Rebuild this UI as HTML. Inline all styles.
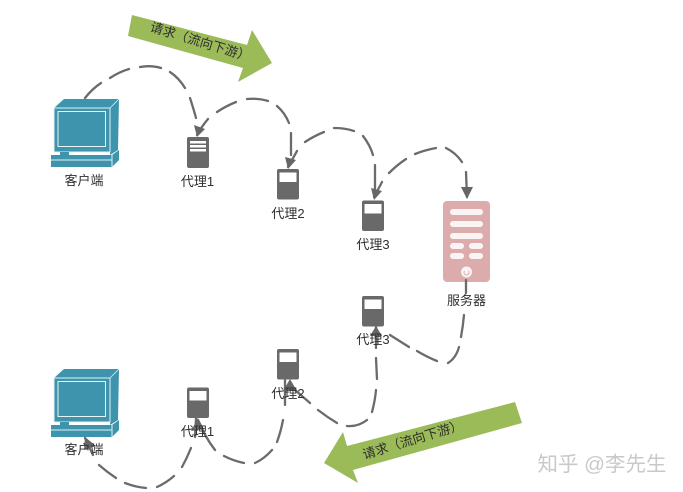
<!DOCTYPE html>
<html>
<head>
<meta charset="utf-8">
<style>
html,body{margin:0;padding:0;background:#fff;width:683px;height:492px;overflow:hidden}
svg{display:block}
text{font-family:"Liberation Sans","Noto Sans CJK SC",sans-serif;fill:#2f2f2f;font-size:13px;text-anchor:middle}
.c{fill:none;stroke:#6b6b6b;stroke-width:2.3;stroke-linecap:round}
.h{fill:#666}
</style>
</head>
<body>
<svg width="683" height="492" viewBox="0 0 683 492" xmlns="http://www.w3.org/2000/svg">
<defs>
<g id="pc">
<polygon points="54,108 64,99 119,99 110,108" fill="#3f94ad"/>
<polygon points="110,108 119,99 118,150 110,155" fill="#3f94ad"/>
<line x1="110" y1="108" x2="119" y2="99" stroke="#e2f2f5" stroke-width=".8"/>
<rect x="54" y="108" width="56" height="44" fill="#3f94ad" stroke="#e2f2f5" stroke-width="1"/>
<rect x="58" y="111.500" width="47.500" height="35" fill="#3f94ad" stroke="#e8f5f7" stroke-width="1"/>
<polygon points="51,155 112,155 119,150 119,160 112,167 51,167" fill="#3f94ad"/>
<line x1="51" y1="160" x2="112" y2="160" stroke="#e2f2f5" stroke-width="1"/>
<line x1="112" y1="155" x2="112" y2="167" stroke="#e2f2f5" stroke-width="1"/>
<rect x="60" y="152" width="9" height="3" fill="#3f94ad"/>
</g>
<g id="px">
<rect x="0" y="0" width="22" height="30.500" rx="2" fill="#696969"/>
<rect x="2.500" y="3.500" width="17" height="9.500" fill="#fff"/>
</g>
</defs>

<!-- Green arrows -->
<polygon points="132,15 247,45 252,30 272,63 238,82 243,68 128,36" fill="#9bbb59"/>
<polygon points="515,402 522,423 353,470 358,483 324,463 343,432 347,446" fill="#9bbb59"/>
<text transform="translate(199,46) rotate(17)">请求（流向下游）</text>
<text transform="translate(414,444) rotate(-17)">请求（流向下游）</text>

<!-- Computers -->
<use href="#pc"/>
<use href="#pc" y="270"/>

<!-- Proxy 1 top -->
<rect x="187" y="137" width="22" height="31" rx="2" fill="#696969"/>
<rect x="190" y="141" width="16" height="2.500" fill="#fff"/>
<rect x="190" y="145" width="16" height="2.500" fill="#fff"/>
<rect x="190" y="149" width="16" height="2.500" fill="#fff"/>

<use href="#px" x="277" y="169"/>
<use href="#px" x="362" y="200.500"/>
<use href="#px" x="362" y="296"/>
<use href="#px" x="277" y="349"/>
<use href="#px" x="187" y="387.500"/>

<!-- Server -->
<rect x="443" y="201" width="47" height="81" rx="4" fill="#dcacac"/>
<g fill="#fbf4f4">
<rect x="450" y="209" width="33" height="6" rx="3"/>
<rect x="450" y="221" width="33" height="6" rx="3"/>
<rect x="450" y="233" width="33" height="6" rx="3"/>
<rect x="450" y="243" width="14" height="6" rx="3"/>
<rect x="469" y="243" width="14" height="6" rx="3"/>
<rect x="450" y="253" width="14" height="6" rx="3"/>
<rect x="469" y="253" width="14" height="6" rx="3"/>
<circle cx="466.500" cy="272" r="5.500"/>
</g>
<path d="M464.500,271 a2.500,2.500 0 1 0 4,0" fill="none" stroke="#dcacac" stroke-width="1"/>

<!-- Connectors as explicit dashes -->
<path class="c" d="M85,98 Q92,89 101,83 M110,78 Q119,72 129,69 M140,67 Q151,65 161,68 M170,72 Q179,78 185,88 M190,98 Q193,107 196,118"/>
<path class="c" d="M197,135 Q202,126 208,119 M217,112 Q226,106 236,102 M247,99 Q258,98 268,101 M277,106 Q285,113 289,123 M291,133 L291,155"/>
<path class="c" d="M288,167 L297,151 M305,142 Q314,136 324,132 M334,128 Q345,128 354,131 M363,136 Q370,145 373,155 M375,165 L375,193"/>
<path class="c" d="M374,197 L382,182 M389,173 Q397,165 406,159 M415,154 Q425,150 436,148 M446,148 Q456,153 462,162 M466,172 L467,197"/>
<path class="c" d="M466,280 L466,293 M464,315 Q463,326 461,337 M459,347 Q456,358 448,363 M437,361 Q427,357 417,351 M409,347 L390,335"/>
<path class="c" d="M376,327 L376,348 M376,358 L377,379 M376,390 Q375,401 372,412 M367,420 Q358,427 347,426 M337,423 Q327,417 318,410 M310,403 L295,390"/>
<path class="c" d="M285,380 L285,405 M283,420 Q281,431 277,442 M272,450 Q264,459 255,463 M244,463 Q234,461 224,456 M215,450 Q205,437 198,420"/>
<path class="c" d="M196,418 L195,437 M191,448 Q187,458 182,467 M174,476 Q166,483 157,487 M146,488 Q135,487 125,483 M116,478 Q107,472 99,465 M93,455 L85,438"/>

<!-- Arrowheads -->
<polygon class="h" points="197,137 194,125 205,129"/>
<polygon class="h" points="288,169 285,157 296,160"/>
<polygon class="h" points="374,200 371,188 382,191"/>
<polygon class="h" points="467,199 461,187 473,187"/>
<polygon class="h" points="376,326 370,336 382,336"/>
<polygon class="h" points="290,379 283,391 297,391"/>
<polygon class="h" points="198,418 191,431 204,429"/>
<polygon class="h" points="85,437 84,450 96,446"/>

<!-- Labels -->
<text x="84" y="185">客户端</text>
<text x="197.500" y="186">代理1</text>
<text x="288" y="218">代理2</text>
<text x="373" y="249">代理3</text>
<text x="466.500" y="305">服务器</text>
<text x="373" y="344">代理3</text>
<text x="288" y="398">代理2</text>
<text x="197.500" y="436">代理1</text>
<text x="84" y="454">客户端</text>

<!-- Watermark -->
<text x="602" y="471" style="font-size:20.500px;fill:#c9c9c9">知乎 @李先生</text>
</svg>
</body>
</html>
